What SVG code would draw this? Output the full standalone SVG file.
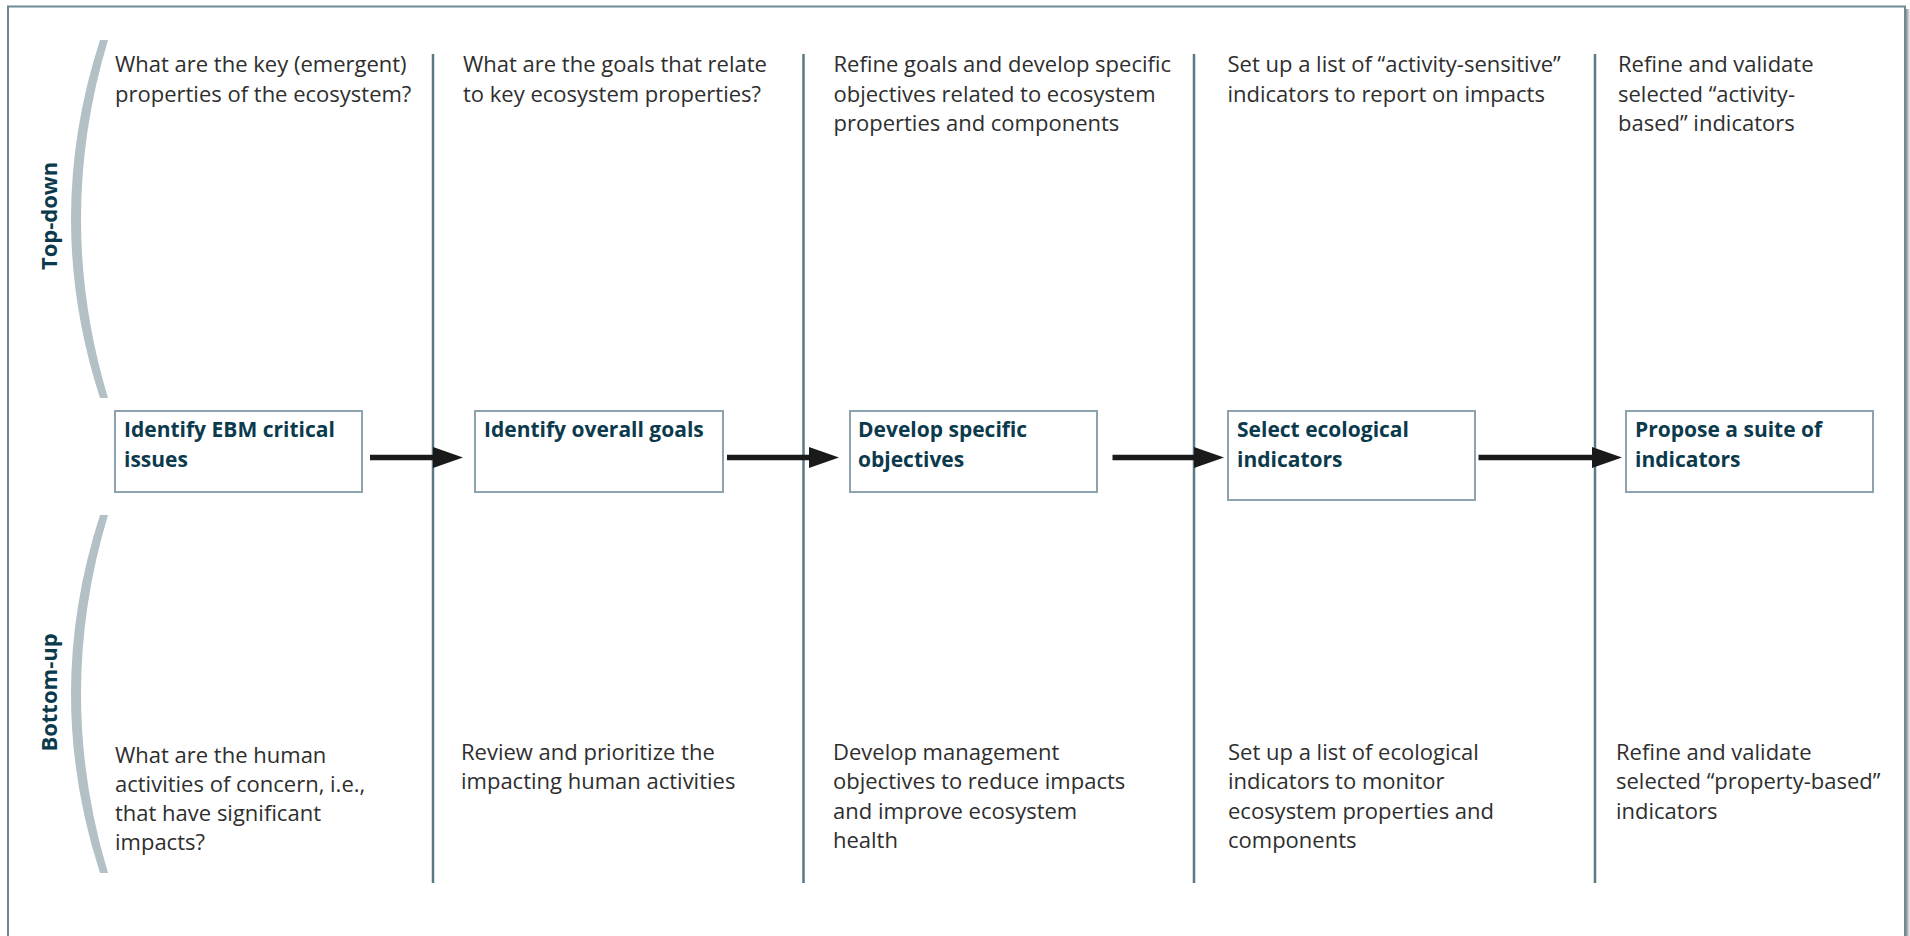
<svg xmlns="http://www.w3.org/2000/svg" width="1910" height="936" viewBox="0 0 1910 936">
<style>
.body{font-family:"Open Sans","Noto Sans","Liberation Sans",sans-serif;font-size:22px;fill:#2e2e2e;}
.lbl{font-family:"Open Sans","Noto Sans","Liberation Sans",sans-serif;font-size:21px;font-weight:bold;fill:#0c3a4d;}
.side{font-family:"Open Sans","Noto Sans","Liberation Sans",sans-serif;font-size:22px;font-weight:bold;fill:#0c3a4d;}
.box{fill:#ffffff;stroke:#8ca2ac;stroke-width:2;}
.div{stroke:#5b7886;stroke-width:2.5;}
.arc{fill:#b3c0c6;}
.conn{stroke:#1a1a1a;stroke-width:5.5;fill:none;}
</style>
<defs>
<marker id="ah" markerUnits="userSpaceOnUse" markerWidth="30" markerHeight="21" refX="0" refY="10.5" orient="auto" viewBox="0 0 30 21">
<path d="M0,0 L30,10.5 L0,21 Z" fill="#1a1a1a"/>
</marker>
<linearGradient id="sh" x1="0" y1="0" x2="1" y2="0">
<stop offset="0" stop-color="#8c8c8c"/>
<stop offset="1" stop-color="#f2f2f2"/>
</linearGradient>
</defs>
<rect x="0" y="0" width="1910" height="936" fill="#ffffff"/>
<rect x="1906" y="9" width="4" height="927" fill="url(#sh)"/>
<rect id="frame" x="8" y="6.5" width="1897" height="940" fill="#ffffff" stroke="#6f8a95" stroke-width="2"/>

<g id="side-labels">
<path class="arc" d="M100,40 L108,40 Q54,219 108,398 L100,398 Q42,219 100,40 Z"/>
<path class="arc" d="M100,515 L108,515 Q54,694 108,873 L100,873 Q42,694 100,515 Z"/>
<text class="side" text-anchor="middle" transform="translate(56.5,216) rotate(-90)">Top-down</text>
<text class="side" text-anchor="middle" transform="translate(56.5,692.5) rotate(-90)">Bottom-up</text>
</g>

<g id="dividers">
<line class="div" x1="433" y1="54" x2="433" y2="883"/>
<line class="div" x1="803.5" y1="54" x2="803.5" y2="883"/>
<line class="div" x1="1194" y1="54" x2="1194" y2="883"/>
<line class="div" x1="1595" y1="54" x2="1595" y2="883"/>
</g>

<g id="top-texts">
<text class="body" x="115" y="72"><tspan x="115">What are the key (emergent)</tspan><tspan x="115" dy="29.5">properties of the ecosystem?</tspan></text>
<text class="body" x="463" y="72"><tspan x="463">What are the goals that relate</tspan><tspan x="463" dy="29.5">to key ecosystem properties?</tspan></text>
<text class="body" x="833.5" y="72"><tspan x="833.5">Refine goals and develop specific</tspan><tspan x="833.5" dy="29.5">objectives related to ecosystem</tspan><tspan x="833.5" dy="29.5">properties and components</tspan></text>
<text class="body" x="1227.5" y="72"><tspan x="1227.5">Set up a list of “activity-sensitive”</tspan><tspan x="1227.5" dy="29.5">indicators to report on impacts</tspan></text>
<text class="body" x="1618" y="72"><tspan x="1618">Refine and validate</tspan><tspan x="1618" dy="29.5">selected “activity-</tspan><tspan x="1618" dy="29.5">based” indicators</tspan></text>
</g>

<g id="bottom-texts">
<text class="body" x="115" y="762.5"><tspan x="115">What are the human</tspan><tspan x="115" dy="29.3">activities of concern, i.e.,</tspan><tspan x="115" dy="29.3">that have significant</tspan><tspan x="115" dy="29.3">impacts?</tspan></text>
<text class="body" x="461" y="760"><tspan x="461">Review and prioritize the</tspan><tspan x="461" dy="29.3">impacting human activities</tspan></text>
<text class="body" x="833" y="760"><tspan x="833">Develop management</tspan><tspan x="833" dy="29.3">objectives to reduce impacts</tspan><tspan x="833" dy="29.3">and improve ecosystem</tspan><tspan x="833" dy="29.3">health</tspan></text>
<text class="body" x="1228" y="760"><tspan x="1228">Set up a list of ecological</tspan><tspan x="1228" dy="29.3">indicators to monitor</tspan><tspan x="1228" dy="29.3">ecosystem properties and</tspan><tspan x="1228" dy="29.3">components</tspan></text>
<text class="body" x="1616" y="760"><tspan x="1616">Refine and validate</tspan><tspan x="1616" dy="29.3">selected “property-based”</tspan><tspan x="1616" dy="29.3">indicators</tspan></text>
</g>

<g id="node1">
<rect class="box" x="115" y="411" width="247" height="81"/>
<text class="lbl" x="124" y="437"><tspan x="124">Identify EBM critical</tspan><tspan x="124" dy="30">issues</tspan></text>
</g>
<g id="node2">
<rect class="box" x="475" y="411" width="248" height="81"/>
<text class="lbl" x="484" y="437">Identify overall goals</text>
</g>
<g id="node3">
<rect class="box" x="850" y="411" width="247" height="81"/>
<text class="lbl" x="858" y="437"><tspan x="858">Develop specific</tspan><tspan x="858" dy="30">objectives</tspan></text>
</g>
<g id="node4">
<rect class="box" x="1228" y="411" width="247" height="89"/>
<text class="lbl" x="1237" y="437"><tspan x="1237">Select ecological</tspan><tspan x="1237" dy="30">indicators</tspan></text>
</g>
<g id="node5">
<rect class="box" x="1626" y="411" width="247" height="81"/>
<text class="lbl" x="1635" y="437"><tspan x="1635">Propose a suite of</tspan><tspan x="1635" dy="30">indicators</tspan></text>
</g>

<g id="connectors">
<line class="conn" x1="370" y1="457.5" x2="433" y2="457.5" marker-end="url(#ah)"/>
<line class="conn" x1="727" y1="457.5" x2="809" y2="457.5" marker-end="url(#ah)"/>
<line class="conn" x1="1112.5" y1="457.5" x2="1194" y2="457.5" marker-end="url(#ah)"/>
<line class="conn" x1="1478.5" y1="457.5" x2="1592" y2="457.5" marker-end="url(#ah)"/>
</g>
</svg>
